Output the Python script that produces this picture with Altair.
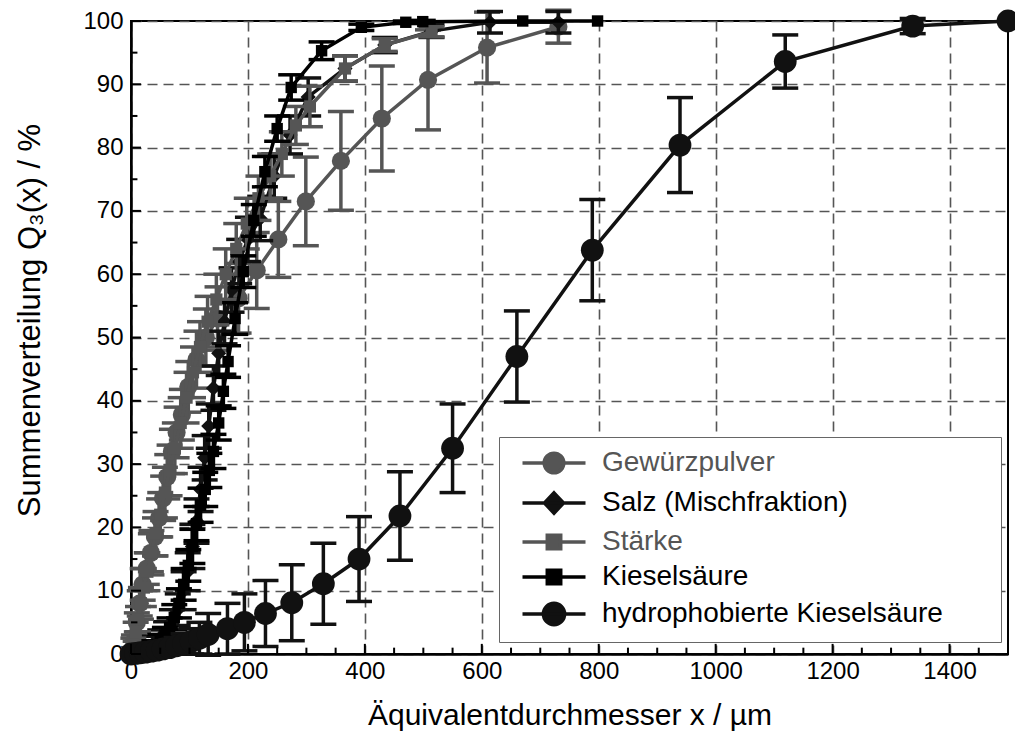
import altair as alt
import pandas as pd

series_names = ["Gewürzpulver", "Salz (Mischfraktion)", "Stärke", "Kieselsäure",
                "hydrophobierte Kieselsäure"]

gew_x = [0, 5, 10, 15, 20, 27, 34, 41, 48, 55, 62, 70, 78, 87, 98, 112, 128, 148, 184, 215, 252, 299, 359, 429, 508, 609, 731]
gew_y = [0, 2, 5, 8, 11, 13.5, 16, 18.5, 21.5, 24.6, 28, 32, 35, 37.8, 42.2, 46.5, 50, 53, 56.2, 60.6, 65.5, 71.5, 77.9, 84.6, 90.7, 95.8, 99.1]
gew_e = [0, 1, 1.5, 2, 2.5, 2.5, 3, 3, 3, 3.5, 3.5, 3.5, 4, 4, 4, 4.5, 4.5, 5, 5.5, 6, 6, 7, 7.8, 8.3, 7.9, 5.6, 2.6]

salz_x = [0, 10, 20, 30, 40, 50, 60, 70, 80, 90, 97, 105, 112, 119, 126, 133, 141, 150, 160, 172, 185, 200, 221, 245, 272, 303, 366, 434, 514, 614, 731]
salz_y = [0, 0.3, 0.7, 1.2, 1.8, 2.6, 3.6, 5, 7, 10, 13, 17, 21, 26, 31, 36, 42, 47.5, 52.5, 57.5, 62, 65.5, 68.8, 75.5, 82, 88, 92.5, 96.2, 98.4, 99.8, 99.8]
salz_e = [0, 0.3, 0.5, 0.8, 1, 1.2, 1.5, 2, 2.5, 3, 3, 3.5, 3.5, 3.5, 3.5, 3.5, 3.5, 3.5, 3.5, 3.5, 3.5, 3.5, 3.5, 3.5, 3, 3, 2, 1.2, 1, 1.7, 1.7]

staerke_x = [0, 4, 8, 12, 17, 22, 28, 35, 42, 50, 58, 66, 75, 85, 95, 106, 118, 131, 146, 162, 180, 198, 218, 238, 258, 282, 306, 366, 434, 514]
staerke_y = [0, 1.5, 3.5, 5.5, 8, 10.5, 13, 16, 19, 22, 25.5, 29, 32.5, 36.5, 40.5, 44.5, 48.5, 52.5, 56, 60, 64, 68, 72, 75.5, 79, 83.5, 86.5, 92.5, 96.2, 98.3]
staerke_e = [0, 1, 1.5, 2, 2.5, 3, 3, 3.5, 3.5, 3.5, 4, 4, 4, 4, 4, 4, 4, 4, 4, 4, 4, 4, 3.5, 3.5, 3.5, 3, 3.2, 2, 1, 0.8]

kies_x = [0, 10, 20, 30, 40, 50, 58, 66, 74, 82, 90, 98, 105, 112, 119, 127, 134, 141, 150, 158, 166, 178, 192, 210, 229, 250, 274, 326, 394, 470, 499, 670, 798]
kies_y = [0, 0.2, 0.5, 0.9, 1.4, 2.1, 3, 4.2, 5.8, 8, 11, 14, 17, 20.6, 23.5, 26, 29, 32, 36.5, 41.5, 46.2, 53, 60.4, 68.5, 76.2, 83, 89.5, 95.3, 99.0, 99.8, 99.9, 100, 100]
kies_e = [0, 0.2, 0.3, 0.5, 0.7, 1, 1.2, 1.5, 2, 2.3, 2.5, 2.5, 2.7, 2.7, 2.7, 2.7, 2.7, 2.7, 2.7, 2.7, 2.5, 2.5, 2.5, 2.5, 2.4, 2, 2, 1.4, 0.5, 0.2, 0.2, 0, 0]

hyd_x = [0, 8, 16, 25, 35, 45, 55, 66, 78, 90, 103, 117, 132, 165, 194, 230, 275, 329, 390, 460, 550, 660, 789, 939, 1119, 1337, 1500]
hyd_y = [0, 0.1, 0.2, 0.3, 0.45, 0.6, 0.8, 1.0, 1.3, 1.6, 2.0, 2.5, 3.1, 4.0, 5.0, 6.4, 8.1, 11.1, 15.0, 21.8, 32.5, 47.0, 63.8, 80.4, 93.6, 99.2, 100]
hyd_e = [0, 0.1, 0.2, 0.3, 0.4, 0.6, 0.8, 1.0, 1.3, 1.6, 2.0, 2.5, 3.3, 4.0, 4.5, 5.2, 6.0, 6.4, 6.7, 7.0, 7.0, 7.2, 8.0, 7.5, 4.2, 1.2, 0]

x_ticks_minor = list(range(0, 1501, 50))
y_ticks_minor = list(range(0, 101, 5))
x_labels = list(range(0, 1401, 200))
y_labels = list(range(0, 101, 10))

GRAY = "#555555"
BLACK = "#111111"
FONT = "Liberation Sans"

styles = {
    "Gewürzpulver": dict(color=GRAY, shape="circle", size=330),
    "Salz (Mischfraktion)": dict(color=BLACK, shape="diamond", size=230),
    "Stärke": dict(color=GRAY, shape="square", size=150),
    "Kieselsäure": dict(color="#000000", shape="square", size=130),
    "hydrophobierte Kieselsäure": dict(color=BLACK, shape="circle", size=520),
}

raw = {
    "Gewürzpulver": (gew_x, gew_y, gew_e),
    "Salz (Mischfraktion)": (salz_x, salz_y, salz_e),
    "Stärke": (staerke_x, staerke_y, staerke_e),
    "Kieselsäure": (kies_x, kies_y, kies_e),
    "hydrophobierte Kieselsäure": (hyd_x, hyd_y, hyd_e),
}

rows = []
for s, (xs, ys, es) in raw.items():
    for xv, yv, ev in zip(xs, ys, es):
        rows.append({"series": s, "x": xv, "y": yv, "e": ev, "lo": yv - ev, "hi": yv + ev})
df = pd.DataFrame(rows)

tick_rows = []
for v in x_ticks_minor:
    tick_rows.append({"kind": "x", "x": v, "x2": v, "y": 0, "y2": 1.6 if v % 200 == 0 else 1.0})
for v in y_ticks_minor:
    tick_rows.append({"kind": "y", "x": 0, "x2": 17 if v % 10 == 0 else 11, "y": v, "y2": v})
ticks_df = pd.DataFrame(tick_rows)

xscale = alt.Scale(domain=[0, 1500], nice=False, zero=False)
yscale = alt.Scale(domain=[0, 100], nice=False, zero=False)

xaxis = alt.Axis(values=x_labels, format="d", title="Äquivalentdurchmesser x / µm",
                 titleFont=FONT, titleFontSize=30, titleFontWeight="normal", titleColor="black",
                 titleY=61, titleBaseline="middle",
                 labelFont=FONT, labelFontSize=24, labelColor="black", labelPadding=5,
                 labelFlush=False, ticks=False,
                 domainColor="black", domainWidth=2.5,
                 grid=True, gridDash=[10, 6], gridColor="#555555", gridWidth=1.6)
yaxis = alt.Axis(values=y_labels, format="d", title="Summenverteilung Q₃(x) / %",
                 titleFont=FONT, titleFontSize=31, titleFontWeight="normal", titleColor="black",
                 titleX=-101, titleY=299, titleBaseline="middle", titleAngle=270,
                 labelFont=FONT, labelFontSize=24, labelColor="black", labelPadding=8,
                 labelFlush=False, ticks=False,
                 domainColor="black", domainWidth=2.5,
                 grid=True, gridDash=[10, 6], gridColor="#555555", gridWidth=1.6)

X = alt.X("x:Q", scale=xscale, axis=xaxis)
Y = alt.Y("y:Q", scale=yscale, axis=yaxis)

layers = []
for s in series_names:
    st = styles[s]
    c = st["color"]
    base = alt.Chart(df).transform_filter(alt.datum.series == s)
    eb = base.transform_filter(alt.datum.e > 0)
    layers.append(eb.mark_rule(color=c, strokeWidth=3.5, opacity=1).encode(
        x=X, y=alt.Y("lo:Q", scale=yscale, axis=yaxis), y2="hi:Q"))
    layers.append(eb.mark_tick(color=c, thickness=3.5, size=26, orient="horizontal", opacity=1).encode(
        x=X, y=alt.Y("lo:Q", scale=yscale, axis=yaxis)))
    layers.append(eb.mark_tick(color=c, thickness=3.5, size=26, orient="horizontal", opacity=1).encode(
        x=X, y=alt.Y("hi:Q", scale=yscale, axis=yaxis)))
    layers.append(base.mark_line(color=c, strokeWidth=3.5).encode(x=X, y=Y, order="x:Q"))
    layers.append(base.mark_point(filled=True, color=c, shape=st["shape"], size=st["size"],
                                  opacity=1, strokeWidth=0).encode(x=X, y=Y))

# inward axis ticks
tick_layer = alt.Chart(ticks_df).mark_rule(color="black", strokeWidth=2).encode(
    x=X, x2="x2:Q", y=Y, y2="y2:Q")
layers.append(tick_layer)

# legend (built from the colour/shape scales)
line_p = "M-2.25,0H2.25 "
paths = [
    line_p + "M-0.7,0A0.7,0.7 0 1,0 0.7,0A0.7,0.7 0 1,0 -0.7,0Z",
    line_p + "M0,-0.72L0.68,0L0,0.72L-0.68,0Z",
    line_p + "M-0.48,-0.48H0.48V0.48H-0.48Z",
    line_p + "M-0.48,-0.48H0.48V0.48H-0.48Z",
    line_p + "M-0.76,0A0.76,0.76 0 1,0 0.76,0A0.76,0.76 0 1,0 -0.76,0Z",
]
colors = [styles[s]["color"] for s in series_names]

filler = "\u2002" * 3 + "\u2009" + "\u2060"
leg = alt.Legend(
    title=None, orient="none", legendX=368, legendY=416,
    padding=10, fillColor="white", strokeColor="#666666", cornerRadius=0,
    symbolSize=784, symbolStrokeWidth=3.5, symbolOffset=29, symbolOpacity=1,
    labelOffset=32, rowPadding=5, labelFont=FONT, labelFontSize=28, labelLimit=0,
    labelExpr="datum.label + '" + filler + "'",
    labelColor=alt.ExprRef(expr="indexof(['Gewürzpulver','Stärke'], datum.value) >= 0 ? '#555555' : '#000000'"),
)
legend_df = pd.DataFrame({"series": series_names, "x": [0] * 5, "y": [0] * 5})
legend_layer = alt.Chart(legend_df).transform_filter("false").mark_point(
    filled=True, opacity=1).encode(
    x=X, y=Y,
    shape=alt.Shape("series:N", scale=alt.Scale(domain=series_names, range=paths), legend=leg),
    fill=alt.Fill("series:N", scale=alt.Scale(domain=series_names, range=colors), legend=leg),
    stroke=alt.Stroke("series:N", scale=alt.Scale(domain=series_names, range=colors), legend=leg),
)
layers.append(legend_layer)

chart = alt.layer(*layers).properties(
    width=877, height=633,
    padding={"left": 131, "top": 21, "right": 7, "bottom": 101},
    autosize=alt.AutoSizeParams(type="none"),
    background="white",
).configure_view(stroke="black", strokeWidth=2)

chart.save("out.html", embed_options={"renderer": "svg", "actions": False})
